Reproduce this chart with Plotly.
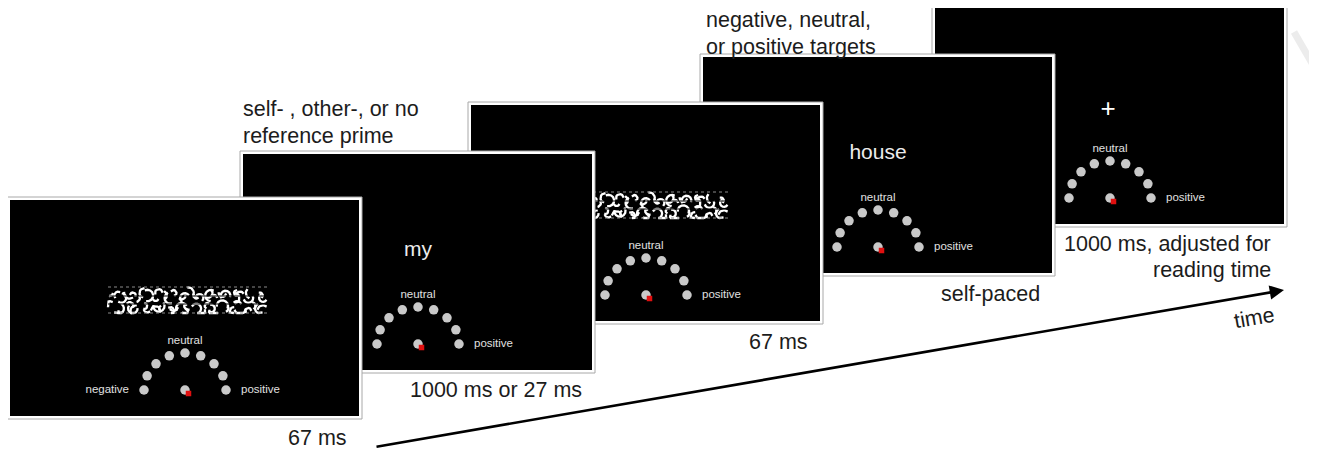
import numpy as np
import plotly.graph_objects as go

W, H = 1317, 451
OFF = 8  # page body margin compensation

# ---------------- content ----------------
stimuli = ["mask", "my", "mask", "house", "+"]
scale_labels = ["negative", "neutral", "positive"]
n_scale_points = 9
captions = ["67 ms", "1000 ms or 27 ms", "67 ms", "self-paced"]
caption_last = ["1000 ms, adjusted for", "reading time"]
header_prime = ["self- , other-, or no", "reference prime"]
header_target = ["negative, neutral,", "or positive targets"]
axis_label = "time"

# ---------------- layout constants ----------------
panel_x0 = [10, 243, 471, 703, 935]
panel_y0 = [200, 154, 105, 57, 8]
PW, PH = 349, 216
caption_pos = [(286, 438), (408, 390), (747, 342), (939, 294)]

FONT = "Liberation Sans, Arial, sans-serif"
DOT = "#c9c9c9"
TXT = "#1c1c1c"
CAP = 21.5

fig = go.Figure()


def rect(x0, y0, x1, y1, fill, lc="rgba(0,0,0,0)", lw=0):
    fig.add_trace(go.Scatter(
        x=[x0, x1, x1, x0, x0], y=[y0, y0, y1, y1, y0],
        fill="toself", fillcolor=fill, mode="lines",
        line=dict(color=lc, width=lw), hoverinfo="skip", showlegend=False))


def text(xs, ys, ts, size, color, pos="middle center", family=FONT):
    fig.add_trace(go.Scatter(
        x=xs, y=ys, text=ts, mode="text", textposition=pos,
        textfont=dict(size=size, color=color, family=family),
        hoverinfo="skip", showlegend=False))


def mask_strokes(mx0, my0, mw, mh):
    """Scribble texture of the backward mask (deterministic arcs)."""
    xs, ys = [], []
    n = 60
    for k in range(n):
        cx = mx0 + 4 + (k % 30) * (mw - 8) / 29 + ((k * 3) % 5) - 2
        cy = my0 + 6 + (0 if k < 30 else 13) + ((k * 7) % 3) * 2.5
        r = 3.0 + (k * 5 % 4) * 0.9
        a0 = np.deg2rad((k * 137.5) % 360)
        span = np.deg2rad(110 + (k * 53) % 130)
        t = np.linspace(a0, a0 + span, 9)
        px = np.clip(cx + r * np.cos(t), mx0, mx0 + mw)
        py = np.clip(cy + r * np.sin(t), my0, my0 + mh)
        xs += list(px) + [None]
        ys += list(py) + [None]
    return xs, ys


# faint artifact at top right
fig.add_trace(go.Scatter(x=[1294, 1317], y=[32, 72], mode="lines",
                         line=dict(color="#ececec", width=7),
                         hoverinfo="skip", showlegend=False))

# draw from back (last panel) to front (first panel)
for i in reversed(range(len(stimuli))):
    x0, y0 = panel_x0[i], panel_y0[i]
    x1, y1 = x0 + PW, y0 + PH
    rect(x0 - 3, y0 - 3, x1 + 3, y1 + 3, "white", "#a8a8a8", 1)
    rect(x0, y0, x1, y1, "black")

    s = stimuli[i]
    if s == "mask":
        mx0, my0, mw, mh = x0 + 98, y0 + 87, 159, 26
        sx, sy = mask_strokes(mx0, my0, mw, mh)
        fig.add_trace(go.Scatter(x=sx, y=sy, mode="lines",
                                 line=dict(color="white", width=2.3),
                                 hoverinfo="skip", showlegend=False))
        for yy in (my0 + 9, my0 + 17):
            fig.add_trace(go.Scatter(x=[mx0, mx0 + mw], y=[yy, yy], mode="lines",
                                     line=dict(color="black", width=1.2),
                                     hoverinfo="skip", showlegend=False))
        for yy in (my0, my0 + mh):
            fig.add_trace(go.Scatter(x=[mx0, mx0 + mw], y=[yy, yy], mode="lines",
                                     line=dict(color="#8a8a8a", width=1, dash="dot"),
                                     hoverinfo="skip", showlegend=False))
    elif s == "+":
        text([x0 + 173], [y0 + 102], [s], 26, "white")
    else:
        text([x0 + 175], [y0 + 97], [s], 21, "#ececec")

    # rating scale (semicircle of dots)
    cx, cy = x0 + 175, y0 + 190
    ang = np.linspace(np.pi, 0, n_scale_points)
    fig.add_trace(go.Scatter(
        x=list(cx + 41 * np.cos(ang)) + [cx], y=list(cy - 37 * np.sin(ang)) + [cy],
        mode="markers", marker=dict(size=9.5, color=DOT, line=dict(width=0)),
        hoverinfo="skip", showlegend=False))
    fig.add_trace(go.Scatter(
        x=[cx + 3.5], y=[cy + 3.5], mode="markers",
        marker=dict(symbol="square", size=5.5, color="#e01010", line=dict(width=0)),
        hoverinfo="skip", showlegend=False))
    text([cx - 56], [cy + 0.5], [scale_labels[0]], 11.5, "#e0e0e0", "middle left")
    text([cx], [cy - 49], [scale_labels[1]], 11.5, "#e0e0e0")
    text([cx + 56], [cy + 0.5], [scale_labels[2]], 11.5, "#e0e0e0", "middle right")

annotations = []
capfont = dict(size=CAP, color=TXT, family=FONT)
for (cxp, cyp), c in zip(caption_pos, captions):
    annotations.append(dict(x=cxp, y=cyp, text=c, showarrow=False, xanchor="left",
                            yanchor="middle", font=capfont))
annotations.append(dict(x=1273, y=244, text=caption_last[0], showarrow=False, xanchor="right",
                        yanchor="middle", font=capfont))
annotations.append(dict(x=1273, y=270, text=caption_last[1], showarrow=False, xanchor="right",
                        yanchor="middle", font=capfont))
for k, t in enumerate(header_prime):
    annotations.append(dict(x=241, y=109 + 27 * k, text=t, showarrow=False, xanchor="left",
                            yanchor="middle", font=capfont))
for k, t in enumerate(header_target):
    annotations.append(dict(x=704, y=20 + 27 * k, text=t, showarrow=False, xanchor="left",
                            yanchor="middle", font=capfont))
annotations.append(dict(x=1284, y=290, ax=375, ay=447, axref="x", ayref="y",
                        xref="x", yref="y", text="", showarrow=True, arrowhead=2,
                        arrowsize=1.1, arrowwidth=2.6, arrowcolor="black", standoff=0))
annotations.append(dict(x=1254, y=318, text=axis_label, showarrow=False, textangle=-10,
                        font=capfont))

fig.update_layout(
    width=W, height=H, margin=dict(l=0, r=0, t=0, b=0),
    paper_bgcolor="white", plot_bgcolor="white",
    xaxis=dict(range=[OFF, W + OFF], visible=False, fixedrange=True),
    yaxis=dict(range=[H + OFF, OFF], visible=False, fixedrange=True),
    annotations=annotations, showlegend=False,
)
fig.write_html("out.html")
